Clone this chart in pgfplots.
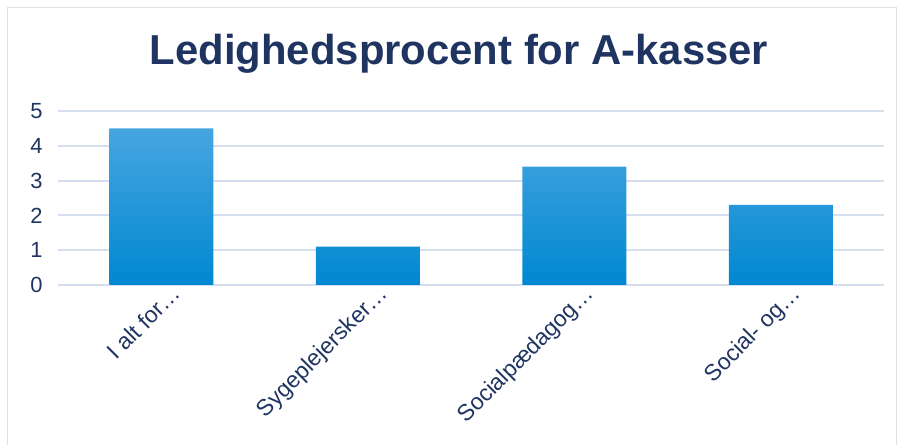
\documentclass[border=0pt]{standalone}
\usepackage{pgfplots}
\pgfplotsset{compat=1.18}
\usepackage{fontspec}
\setmainfont{Liberation Sans}
\definecolor{navy}{HTML}{1F3461}
\definecolor{gridc}{HTML}{D6DFF0}
\definecolor{bartop}{HTML}{47A5E1}
\definecolor{barmid}{HTML}{009ADF}
\definecolor{barbot}{HTML}{0088D1}
\begin{document}
\begin{tikzpicture}[x=1bp,y=1bp]
\path[use as bounding box] (0,0) rectangle (901,445);
\draw[gray!25, line width=1bp] (7,0) -- (7,437) -- (896,437) -- (896,0);
\node[font=\fontsize{42}{50}\selectfont\bfseries, text=navy] at (459,391) {Ledighedsprocent for A-kasser};
\begin{axis}[
  at={(58bp,160bp)}, anchor=south west,
  scale only axis, width=826bp, height=174bp,
  xmin=-0.5, xmax=3.5, ymin=0, ymax=5,
  axis x line=bottom, axis y line=left,
  x axis line style={gridc, line width=2bp, -},
  y axis line style={draw=none},
  ytick={0,1,2,3,4,5},
  ymajorgrids, major grid style={gridc, line width=2bp},
  xtick={0,1,2,3},
  xticklabels={I alt for…, Sygeplejersker…, Socialpædagog…, Social- og…},
  major tick length=0pt,
  tick label style={font=\fontsize{22}{26}\selectfont, text=navy},
  yticklabel style={anchor=east, xshift=-12bp},
  xticklabel style={rotate=45, anchor=north east, inner sep=2bp, xshift=10bp, yshift=-3bp, font=\fontsize{23}{27}\selectfont},
  /pgf/number format/assume math mode=true,
  clip=false,
]
\addplot[ybar, bar width=104bp, draw=none, top color=bartop, middle color=barmid, bottom color=barbot]
  coordinates {(0,4.5) (1,1.1) (2,3.4) (3,2.3)};
\end{axis}
\end{tikzpicture}
\end{document}
